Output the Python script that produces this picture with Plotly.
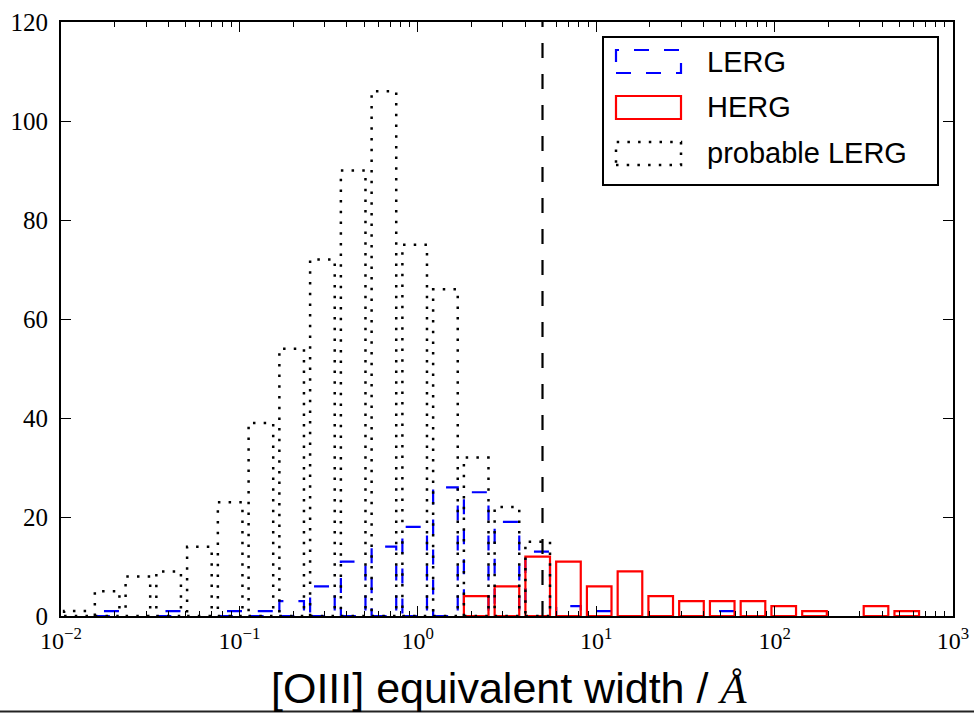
import numpy as np
import plotly.graph_objects as go

# ---- data ----
log_edge_min = -2.0          # log10 of first bin edge
log_edge_max = 2.827         # log10 of last bin edge
n_bins = 28
lerg_counts = [0, 1, 0, 1, 0, 1, 1, 3, 6, 11, 14, 18, 26, 25, 19, 13,
               2, 1, 0, 0, 0, 1, 0, 0, 0, 0, 0, 0]
herg_counts = [0, 0, 0, 0, 0, 0, 0, 0, 0, 0, 0, 0, 0, 4, 6, 12,
               11, 6, 9, 4, 3, 3, 3, 2, 1, 0, 2, 1]
probable_counts = [1, 5, 8, 9, 14, 23, 39, 54, 72, 90, 106, 75, 66, 32, 22, 15,
                   0, 0, 0, 0, 0, 0, 0, 0, 0, 0, 0, 0]
cut_value = 5.0
x_tick_vals = [1e-2, 1e-1, 1e0, 1e1, 1e2, 1e3]
x_tick_text = ["10<sup>\u22122</sup>", "10<sup>\u22121</sup>", "10<sup>0</sup>",
               "10<sup>1</sup>", "10<sup>2</sup>", "10<sup>3</sup>"]
y_tick_vals = [0, 20, 40, 60, 80, 100, 120]
labels = ["LERG", "HERG", "probable LERG"]

rwidth = 0.8
edges = np.linspace(log_edge_min, log_edge_max, n_bins + 1)


def outline(counts):
    xs, ys = [], []
    for k, c in enumerate(counts):
        if c == 0:
            continue
        w = edges[k + 1] - edges[k]
        lo = 10 ** (edges[k] + (1 - rwidth) / 2 * w)
        hi = 10 ** (edges[k] + (1 + rwidth) / 2 * w)
        xs += [lo, hi, hi, lo, lo, None]
        ys += [0, 0, c, c, 0, None]
    return xs, ys


styles = [
    dict(color="#0000ff", width=2.2, dash="15px,15px"),
    dict(color="#ff0000", width=2.2, dash="solid"),
    dict(color="#000000", width=2.5, dash="2.5px,8.2px"),
]

fig = go.Figure()
for counts, st, name in zip([lerg_counts, herg_counts, probable_counts], styles, labels):
    xs, ys = outline(counts)
    fig.add_trace(go.Scatter(x=xs, y=ys, mode="lines", name=name,
                             line=st, hoverinfo="skip", showlegend=False))

# vertical dashed cut line
fig.add_trace(go.Scatter(x=[cut_value, cut_value], y=[0, 120], mode="lines",
                         line=dict(color="black", width=2.2, dash="15px,16px"),
                         showlegend=False, hoverinfo="skip"))

minor_vals = [m * 10.0 ** d for d in range(-2, 3) for m in range(2, 10)]

W, H = 974, 714
L, R, T, B = 61, 21, 22, 98
pw, ph = W - L - R, H - T - B


def px(x):
    return (x - L) / pw


def py(y):
    return (H - B - y) / ph


serif = "Liberation Serif, DejaVu Serif, serif"
sans = "Liberation Sans, Arial, sans-serif"

fig.update_layout(
    width=W, height=H,
    margin=dict(l=L, r=R, t=T, b=B, autoexpand=False),
    paper_bgcolor="white", plot_bgcolor="white",
    showlegend=False,
    xaxis=dict(type="log", range=[-2, 3], showline=True, linewidth=2, linecolor="black",
               mirror="allticks", ticks="inside", ticklen=10, tickwidth=1.3,
               tickcolor="black", tickmode="array", tickvals=x_tick_vals,
               ticktext=x_tick_text, tickfont=dict(family=serif, size=24, color="black"),
               showgrid=False, zeroline=False, automargin=False, ticklabelstandoff=2,
               minor=dict(ticks="inside", ticklen=5, tickwidth=1, tickcolor="black",
                          tickvals=minor_vals, showgrid=False)),
    yaxis=dict(range=[0, 120], showline=True, linewidth=2, linecolor="black",
               mirror="allticks", ticks="inside", ticklen=10, tickwidth=1.3,
               tickcolor="black", tickmode="array", tickvals=y_tick_vals,
               tickfont=dict(family=serif, size=25, color="black"),
               showgrid=False, zeroline=False, automargin=False, ticklabelstandoff=6),
)

# x-axis label
fig.add_annotation(xref="paper", yref="paper", x=px(509), y=py(688),
                   xanchor="center", yanchor="middle", showarrow=False,
                   text="[OIII] equivalent width / <span style=\"font-family:Liberation Serif\"><i>Å</i></span>",
                   font=dict(family=sans, size=43, color="black"))

# manual legend (matplotlib-style patches)
shapes = [dict(type="rect", xref="paper", yref="paper", x0=px(603), x1=px(938),
               y0=py(185), y1=py(37), line=dict(color="black", width=2),
               fillcolor="white", layer="above")]
patch_rows = [(50, 73), (96, 119), (142, 165)]
for (top, bot), st, name in zip(patch_rows, styles, labels):
    shapes.append(dict(type="rect", xref="paper", yref="paper", x0=px(616), x1=px(681),
                       y0=py(bot), y1=py(top), line=dict(color=st["color"], width=st["width"],
                                                         dash=st["dash"]),
                       fillcolor="rgba(0,0,0,0)", layer="above"))
    fig.add_annotation(xref="paper", yref="paper", x=px(705), y=py((top + bot) / 2),
                       xanchor="left", yanchor="middle", showarrow=False, text=name,
                       font=dict(family=sans, size=29, color="black"))

# thin frame line at bottom edge of the image
shapes.append(dict(type="line", xref="paper", yref="paper", x0=px(0), x1=px(974),
                   y0=py(711.5), y1=py(711.5), line=dict(color="#222222", width=2)))
fig.update_layout(shapes=shapes)

fig.write_html("out.html", config={"displayModeBar": False},
               post_script="document.body.style.margin='0';document.body.style.overflow='hidden';")
